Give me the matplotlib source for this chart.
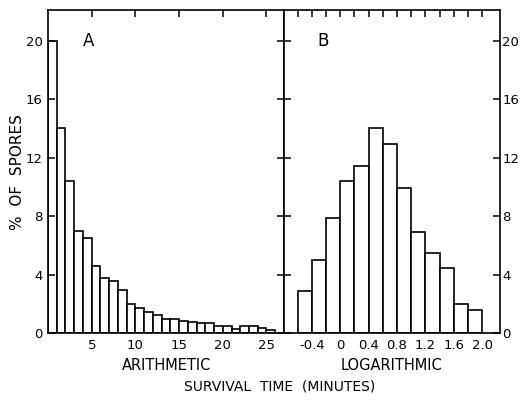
import matplotlib
matplotlib.use("Agg")
import matplotlib.pyplot as plt

plt.rcParams['font.family'] = ['DejaVu Sans']

# A: survival time on an arithmetic scale (1-minute bins)
arith_left = list(range(0, 26))
arith_pct = [20.0, 14.0, 10.4, 7.0, 6.5, 4.6, 3.75, 3.55, 2.95, 2.0,
             1.7, 1.45, 1.2, 0.95, 0.95, 0.8, 0.75, 0.65, 0.65, 0.46,
             0.46, 0.25, 0.46, 0.46, 0.37, 0.2]
arith_ticks = [5, 10, 15, 20, 25]

# B: log survival time (0.2 bins)
log_left = [-0.6, -0.4, -0.2, 0.0, 0.2, 0.4, 0.6, 0.8, 1.0, 1.2, 1.4, 1.6, 1.8]
log_pct = [2.9, 5.0, 7.9, 10.4, 11.4, 14.0, 12.9, 9.9, 6.9, 5.45, 4.45, 1.95, 1.6]
log_ticks = [-0.6, -0.4, -0.2, 0.0, 0.2, 0.4, 0.6, 0.8, 1.0, 1.2, 1.4, 1.6, 1.8, 2.0]
log_labels = ['', '-0.4', '', '0', '', '0.4', '', '0.8', '', '1.2', '', '1.6', '', '2.0']

y_ticks = [0, 4, 8, 12, 16, 20]

fig = plt.figure(figsize=(5.2, 4.05), dpi=100)
ax1 = fig.add_axes([0.0923, 0.1778, 0.4538, 0.7975])
ax2 = fig.add_axes([0.5462, 0.1778, 0.4154, 0.7975])

lw = 1.2
ax1.bar(arith_left, arith_pct, width=1, align='edge',
        facecolor='white', edgecolor='black', linewidth=lw)
ax2.bar(log_left, log_pct, width=0.2, align='edge',
        facecolor='white', edgecolor='black', linewidth=lw)

ax1.set_xlim(0, 27)
ax2.set_xlim(-0.79, 2.25)
for ax in (ax1, ax2):
    ax.set_ylim(0, 22.1)
    ax.set_yticks(y_ticks)
    for s in ax.spines.values():
        s.set_linewidth(lw)
    ax.tick_params(direction='in', length=5, width=1.1, labelsize=9.5,
                   top=True, bottom=False, left=True, right=True, pad=4)

ax1.set_xticks(arith_ticks)
ax1.tick_params(labelleft=True, labelright=False)
ax2.set_xticks(log_ticks)
ax2.set_xticklabels(log_labels)
ax2.tick_params(labelleft=False, labelright=True)
ax2.tick_params(axis='y', pad=1.5)

ax1.text(0.17, 0.905, 'A', transform=ax1.transAxes, fontsize=12,
         ha='center', va='center')
ax2.text(0.18, 0.905, 'B', transform=ax2.transAxes, fontsize=12,
         ha='center', va='center')

fig.text(167 / 520, 1 - 365 / 405, 'ARITHMETIC', fontsize=10.5,
         ha='center', va='center')
fig.text(391 / 520, 1 - 365 / 405, 'LOGARITHMIC', fontsize=10.5,
         ha='center', va='center')
fig.text(280 / 520, 1 - 386 / 405, 'SURVIVAL  TIME  (MINUTES)', fontsize=10,
         ha='center', va='center')
fig.text(18 / 520, 1 - 172 / 405, '%  OF  SPORES', fontsize=11,
         rotation=90, ha='center', va='center')

fig.savefig('out.png', dpi=100)
